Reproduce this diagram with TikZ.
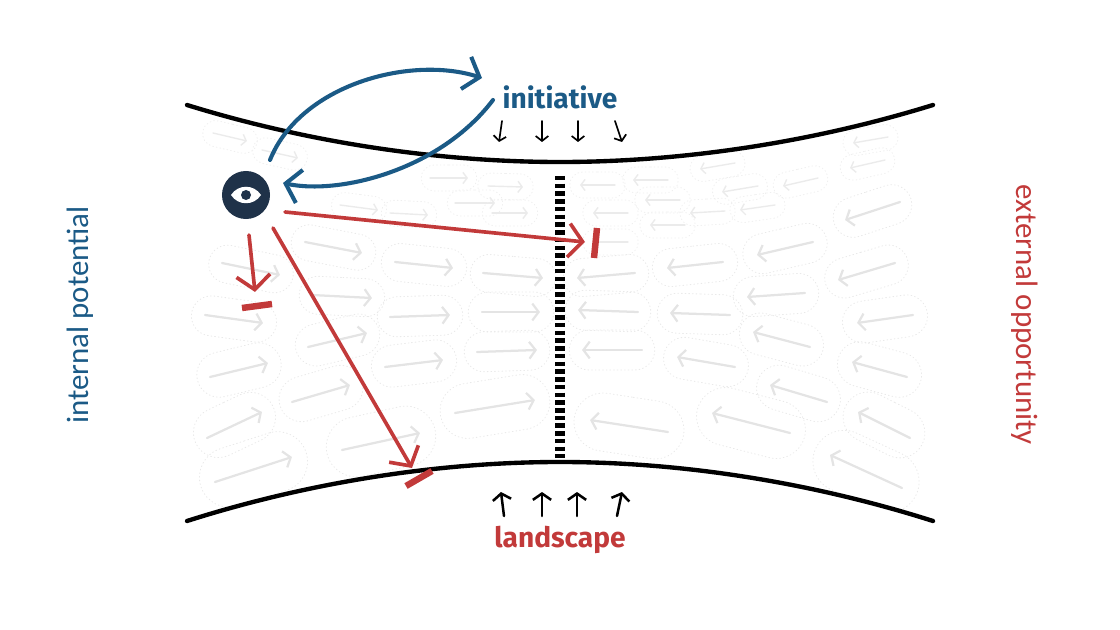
\documentclass[tikz,border=0pt]{standalone}
\usepackage{fontspec}
\newfontfamily\labelfont{Fira Sans}
\newfontfamily\sidefont{Carlito}
\usetikzlibrary{arrows.meta,shapes.misc}
\definecolor{initblue}{HTML}{1B5A86}
\definecolor{landred}{HTML}{C23A3A}
\definecolor{eyenavy}{HTML}{1F3249}
\definecolor{flowgray}{HTML}{E4E4E4}
\tikzset{
  wall/.style={line width=3.1pt},
  gate/.style={line width=6.5pt,line cap=butt,dash pattern=on 3.2pt off 2.3pt},
  flowarr/.style={draw=flowgray,line width=1.6pt,-{Straight Barb[length=4.5pt,width=12pt]}},
  thinflow/.style={draw=flowgray!75,line width=1pt,-{Straight Barb[length=3pt,width=8pt]}},
  flowpill/.style={rounded rectangle,draw=flowgray!80,dotted,line width=0.6pt},
  bluearr/.style={initblue,line width=2.9pt,-{Straight Barb[length=10pt,width=24pt]}},
  redarr/.style={landred,line width=2.6pt,-{Straight Barb[length=10pt,width=24pt]}},
  redbar/.style={landred,line width=4.6pt,line cap=butt},
  pressdown/.style={line width=1.2pt,-{Straight Barb[length=3.5pt,width=9pt]}},
  pressup/.style={line width=1.8pt,-{Straight Barb[length=4.5pt,width=13pt]}},
}
\begin{document}
\begin{tikzpicture}[x=0.025cm,y=-0.025cm,line cap=round,line join=round]
\useasboundingbox (0,0) rectangle (1120,630);

% the channel between the two walls
\begin{scope}
  \clip (187,105) .. controls (300,140) and (430,162) .. (560,162)
    .. controls (690,162) and (820,140) .. (933,105) -- (933,521)
    .. controls (820,485) and (690,462) .. (560,462)
    .. controls (430,462) and (300,485) .. (187,521) -- cycle;
  % faint flow, left half
  \foreach \xa/\ya/\xb/\yb/\w/\h [count=\i] in {
    305/242/362/253/95/36, 222/263/280/275/95/38, 395/262/453/268/95/38,
    483/273/543/278/95/38, 312/295/372/298/95/38, 390/317/450/315/95/40,
    482/312/540/312/95/40, 205/315/263/323/95/40, 308/347/367/333/95/42,
    385/367/443/360/95/42, 477/352/537/350/95/40, 210/377/268/363/95/45,
    292/402/350/385/95/45, 455/413/535/400/120/55, 207/438/262/412/95/50,
    342/450/420/433/120/60, 215/482/292/457/120/60}
    \draw[flowarr] (\xa,\ya) -- (\xb,\yb) node[flowpill,midway,sloped,minimum width=\w*0.025cm,minimum height=\h*0.025cm] (pl\i) {};
  % faint flow, right half
  \foreach \xa/\ya/\xb/\yb/\w/\h [count=\i] in {
    900/202/845/220/90/40, 813/242/757/255/95/40, 895/263/838/280/95/40,
    723/262/667/268/95/38, 635/273/577/278/95/38, 805/293/747/297/95/40,
    730/315/670/313/95/40, 638/312/578/310/95/40, 913/315/857/323/95/42,
    810/347/753/332/95/42, 735/367/677/357/95/42, 642/350/582/350/95/40,
    907/377/852/362/95/45, 827/402/770/385/95/45, 790/433/712/413/120/58,
    668/432/590/420/120/58, 910/438/858/412/95/50, 902/488/830/455/120/62}
    \draw[flowarr] (\xa,\ya) -- (\xb,\yb) node[flowpill,midway,sloped,minimum width=\w*0.025cm,minimum height=\h*0.025cm] (pr\i) {};
  % faint flow near the top wall
  \foreach \xa/\ya/\xb/\yb [count=\i] in {
    213/133/247/141, 262/150/298/158, 340/205/378/210, 390/213/428/215,
    430/178/468/178, 488/186/523/187, 455/203/495/203, 492/213/528/213,
    615/185/580/185, 668/180/633/180, 758/186/722/192, 818/178/783/186,
    735/163/700/169, 888/137/853/143, 885/160/850/168, 628/213/593/213,
    680/200/645/200, 725/211/690/213, 775/205/740/210, 685/225/650/225,
    628/242/593/242}
    \draw[thinflow] (\xa,\ya) -- (\xb,\yb) node[flowpill,draw=flowgray!60,midway,sloped,minimum width=65*0.025cm,minimum height=26*0.025cm] (pt\i) {};
\end{scope}

% walls
\draw[wall] (187,105) .. controls (300,140) and (430,162) .. (560,162)
  .. controls (690,162) and (820,140) .. (933,105);
\draw[wall] (187,521) .. controls (300,485) and (430,462) .. (560,462)
  .. controls (690,462) and (820,485) .. (933,521);
\draw[gate] (560,176) -- (560,458);

% labels
\node[initblue,font=\labelfont\bfseries\fontsize{20}{24}\selectfont] (initiative) at (560,97) {initiative};
\node[landred,font=\labelfont\bfseries\fontsize{20}{24}\selectfont] (landscape) at (560,540) {landscape};
\node[initblue,rotate=90,font=\sidefont\fontsize{22}{26}\selectfont] (internal) at (80,315) {internal potential};
\node[landred,rotate=-90,font=\sidefont\fontsize{22}{26}\selectfont] (external) at (1025,315) {external opportunity};

\foreach \xa/\ya/\xb/\yb in {502/121/499/142, 542/121/542/142, 578/121/578/142, 615/121/622/142}
  \draw[pressdown] (\xa,\ya) -- (\xb,\yb);
\foreach \xa/\ya/\xb/\yb in {504/516/501/492, 542/516/542/492, 577/516/577/492, 617/516/622/492}
  \draw[pressup] (\xa,\ya) -- (\xb,\yb);

% the eye
\node[circle,fill=eyenavy,minimum size=1.2cm,inner sep=0pt] (eye) at (246,195) {};
\fill[white] (231,195) .. controls (238,184) and (254,184) .. (261,195)
  .. controls (254,206) and (238,206) .. (231,195) -- cycle;
\fill[eyenavy] (eye.center) circle[radius=0.125cm];

% loop between eye and initiative
\coordinate (eyeout) at (270,160);
\coordinate (iniin) at (482,78);
\coordinate (iniout) at (493,100);
\coordinate (eyein) at (283,183);
\draw[bluearr] (eyeout) .. controls (300,85) and (410,55) .. (iniin);
\draw[bluearr] (iniout) .. controls (440,170) and (340,195) .. (eyein);

% blocked attempts
\coordinate (aS) at (285,212);  \coordinate (aT) at (585,242);
\coordinate (bS) at (249,235);  \coordinate (bT) at (255,292);
\coordinate (cS) at (273,228);  \coordinate (cT) at (412,468);
\draw[redarr] (aS) -- (aT);
\draw[redarr] (bS) -- (bT);
\draw[redarr] (cS) -- (cT);
\draw[redbar] (597,228) -- (594,258);
\draw[redbar] (242,308) -- (272,304);
\draw[redbar] (406,486) -- (432,471);
\end{tikzpicture}
\end{document}
